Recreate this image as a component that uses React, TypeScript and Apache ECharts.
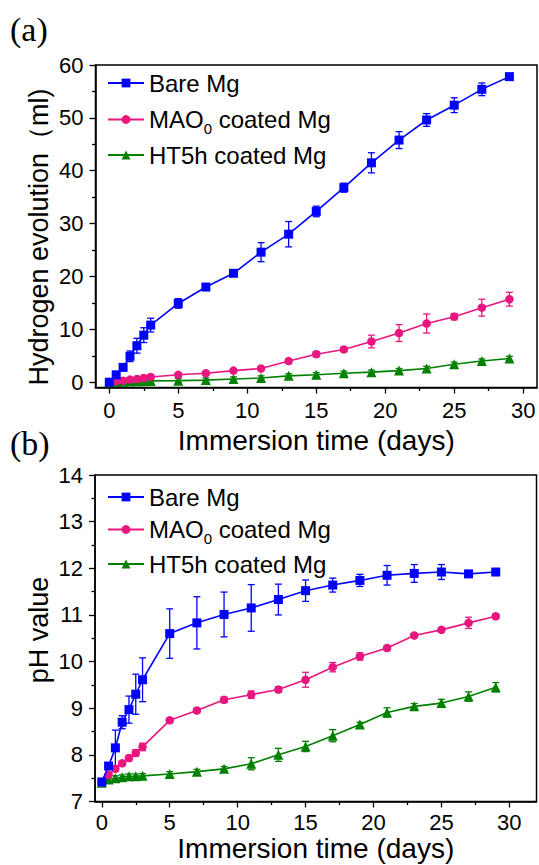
import React, { useEffect, useRef } from "react";
import * as echarts from "echarts";

// Immersion time points (days)
const days = [0, 0.5, 1, 1.5, 2, 2.5, 3, 5, 7, 9, 11, 13, 15, 17, 19, 21, 23, 25, 27, 29];

// (a) Hydrogen evolution (ml)
const h2Bare = [0, 1.4, 2.8, 4.9, 6.9, 8.9, 10.8, 14.9, 18.0, 20.6, 24.6, 28.0, 32.3, 36.8, 41.5, 45.8, 49.6, 52.4, 55.4, 57.8];
const h2BareErr = [0, 0.3, 0.4, 1.0, 1.4, 1.4, 1.3, 0.9, 0.5, 0.5, 1.8, 2.4, 1.0, 0.85, 1.9, 1.6, 1.2, 1.4, 1.2, 0.3];
const h2Mao = [0, 0.2, 0.3, 0.5, 0.6, 0.8, 1.0, 1.4, 1.7, 2.2, 2.6, 4.0, 5.3, 6.2, 7.7, 9.3, 11.1, 12.4, 14.1, 15.7];
const h2MaoErr = [0, 0.3, 0.3, 0.3, 0.3, 0.3, 0.3, 0.3, 0.3, 0.3, 0.3, 0.4, 0.5, 0.4, 1.2, 1.6, 1.8, 0.6, 1.6, 1.3];
const h2Ht = [0, 0.05, 0.1, 0.15, 0.2, 0.2, 0.25, 0.3, 0.4, 0.6, 0.8, 1.2, 1.4, 1.7, 1.9, 2.2, 2.6, 3.4, 4.0, 4.5];
const h2HtErr = [0, 0.4, 0.4, 0.4, 0.4, 0.4, 0.4, 0.4, 0.4, 0.4, 0.4, 0.4, 0.4, 0.4, 0.4, 0.4, 0.4, 0.4, 0.4, 0.4];

// (b) pH value
const phBare = [7.42, 7.76, 8.15, 8.7, 8.97, 9.3, 9.61, 10.6, 10.83, 11.01, 11.15, 11.33, 11.52, 11.64, 11.74, 11.85, 11.89, 11.92, 11.88, 11.92];
const phBareErr = [0, 0.05, 0.38, 0.14, 0.29, 0.43, 0.47, 0.53, 0.56, 0.48, 0.5, 0.33, 0.23, 0.15, 0.13, 0.21, 0.19, 0.16, 0.05, 0.04];
const phMao = [7.41, 7.57, 7.7, 7.82, 7.93, 8.04, 8.17, 8.74, 8.95, 9.18, 9.29, 9.4, 9.61, 9.88, 10.11, 10.29, 10.56, 10.68, 10.83, 10.97];
const phMaoErr = [0, 0.05, 0.05, 0.05, 0.06, 0.07, 0.08, 0.05, 0.05, 0.06, 0.08, 0.06, 0.16, 0.1, 0.08, 0.04, 0.04, 0.05, 0.12, 0.05];
const phHt = [7.4, 7.47, 7.5, 7.52, 7.54, 7.54, 7.55, 7.59, 7.64, 7.7, 7.81, 8.0, 8.18, 8.41, 8.65, 8.91, 9.04, 9.11, 9.25, 9.45];
const phHtErr = [0, 0.05, 0.05, 0.05, 0.05, 0.05, 0.05, 0.05, 0.05, 0.05, 0.13, 0.14, 0.11, 0.13, 0.05, 0.1, 0.06, 0.08, 0.1, 0.1];

// tick labels
const xTicks = [0, 5, 10, 15, 20, 25, 30];
const xMinorTicks = [2.5, 7.5, 12.5, 17.5, 22.5, 27.5];
const h2Ticks = [0, 10, 20, 30, 40, 50, 60];
const h2MinorTicks = [5, 15, 25, 35, 45, 55];
const phTicks = [7, 8, 9, 10, 11, 12, 13, 14];
const phMinorTicks = [7.5, 8.5, 9.5, 10.5, 11.5, 12.5, 13.5];

const seriesNames = ["Bare Mg", "MAO0 coated Mg", "HT5h coated Mg"];
const colors = ["#0000ff", "#e8177f", "#008000"];
const symbols = ["rect", "circle", "triangle"];
const symbolSizes = [9, 8.5, 10];

const FONT = "'Liberation Sans', Arial, 'Noto Sans', sans-serif";

function mainX(gridIndex: number, min: number, max: number) {
  return {
    type: "value",
    gridIndex,
    min,
    max,
    position: "bottom",
    name: "Immersion time (days)",
    nameLocation: "middle",
    nameGap: gridIndex === 0 ? 39 : 28,
    nameTextStyle: { fontSize: 28, color: "#000", fontFamily: FONT },
    axisLine: { show: true, onZero: false, lineStyle: { color: "#000", width: 1.5 } },
    axisTick: { show: true, inside: false, length: 6, customValues: xTicks, lineStyle: { color: "#000", width: 1.3 } },
    axisLabel: { show: true, customValues: xTicks, fontSize: 22, color: "#000", fontFamily: FONT, margin: gridIndex === 0 ? 12 : 10 },
    splitLine: { show: false },
  };
}
function minorX(gridIndex: number, min: number, max: number) {
  return {
    type: "value",
    gridIndex,
    min,
    max,
    position: "bottom",
    axisLine: { show: false, onZero: false },
    axisTick: { show: true, inside: false, length: 3.5, customValues: xMinorTicks, lineStyle: { color: "#000", width: 1.3 } },
    axisLabel: { show: false },
    splitLine: { show: false },
  };
}
function mainY(gridIndex: number, min: number, max: number, ticks: number[]) {
  return {
    type: "value",
    gridIndex,
    min,
    max,
    position: "left",
    axisLine: { show: true, onZero: false, lineStyle: { color: "#000", width: 1.5 } },
    axisTick: { show: true, inside: false, length: 6, customValues: ticks, lineStyle: { color: "#000", width: 1.3 } },
    axisLabel: { show: true, customValues: ticks, fontSize: 22, color: "#000", fontFamily: FONT, margin: 12 },
    splitLine: { show: false },
  };
}
function minorY(gridIndex: number, min: number, max: number, ticks: number[]) {
  return {
    type: "value",
    gridIndex,
    min,
    max,
    position: "left",
    axisLine: { show: false, onZero: false },
    axisTick: { show: true, inside: false, length: 3.5, customValues: ticks, lineStyle: { color: "#000", width: 1.3 } },
    axisLabel: { show: false },
    splitLine: { show: false },
  };
}

function lineSeries(i: number, ys: number[], axis: number) {
  return {
    type: "line",
    name: seriesNames[i],
    xAxisIndex: axis,
    yAxisIndex: axis,
    data: days.map((d, k) => [d, ys[k]]),
    symbol: symbols[i],
    symbolSize: symbolSizes[i],
    showSymbol: true,
    color: colors[i],
    lineStyle: { color: colors[i], width: 1.6 },
    itemStyle: { color: colors[i] },
    z: 3 + (2 - i),
  };
}

function errSeries(i: number, ys: number[], errs: number[], axis: number) {
  const color = colors[i];
  return {
    type: "custom",
    name: seriesNames[i] + " error",
    xAxisIndex: axis,
    yAxisIndex: axis,
    color,
    itemStyle: { color },
    data: days.map((d, k) => [d, ys[k], errs[k]]),
    encode: { x: 0, y: 1 },
    z: 2 + (2 - i),
    renderItem: (_params: any, api: any) => {
      const x = api.value(0);
      const y = api.value(1);
      const e = api.value(2);
      if (!e) return null;
      const lo = api.coord([x, y - e]);
      const hi = api.coord([x, y + e]);
      const w = 3.5;
      const style = { stroke: color, lineWidth: 1.3 };
      return {
        type: "group",
        children: [
          { type: "line", shape: { x1: lo[0], y1: lo[1], x2: hi[0], y2: hi[1] }, style },
          { type: "line", shape: { x1: lo[0] - w, y1: lo[1], x2: lo[0] + w, y2: lo[1] }, style },
          { type: "line", shape: { x1: hi[0] - w, y1: hi[1], x2: hi[0] + w, y2: hi[1] }, style },
        ],
      };
    },
  };
}

function legendItem(i: number, top: number) {
  return {
    data: [{ name: seriesNames[i] }],
    left: 107,
    top,
    padding: 0,
    itemWidth: 36,
    itemHeight: 11,
    selectedMode: false,
    formatter: (name: string) => (name === "MAO0 coated Mg" ? "MAO{sub|0} coated Mg" : name),
    textStyle: {
      fontSize: 24,
      color: "#000",
      fontFamily: FONT,
      lineHeight: 26,
      rich: {
        sub: { fontSize: 15, fontFamily: FONT, color: "#000", lineHeight: 15, padding: [18, 0, 0, 0] },
      },
    },
  };
}

export default function App() {
  const ref = useRef<HTMLDivElement>(null);
  useEffect(() => {
    if (!ref.current) return;
    const chart = echarts.init(ref.current, undefined, { renderer: "svg" });
    const option: any = {
      animation: false,
      backgroundColor: "#fff",
      grid: [
        { left: 95.5, top: 65, width: 441.5, height: 322.5, show: true, borderColor: "#000", borderWidth: 1.5, backgroundColor: "transparent", containLabel: false },
        { left: 95, top: 475, width: 441.5, height: 326.5, show: true, borderColor: "#000", borderWidth: 1.5, backgroundColor: "transparent", containLabel: false },
      ],
      xAxis: [mainX(0, -1, 31), minorX(0, -1, 31), mainX(1, -0.5, 32), minorX(1, -0.5, 32)],
      yAxis: [
        mainY(0, -1, 60, h2Ticks),
        minorY(0, -1, 60, h2MinorTicks),
        mainY(1, 7, 14, phTicks),
        minorY(1, 7, 14, phMinorTicks),
      ],
      legend: [
        legendItem(0, 70),
        legendItem(1, 103),
        legendItem(2, 142),
        legendItem(0, 484),
        legendItem(1, 513),
        legendItem(2, 551),
      ],
      graphic: [
        { type: "text", left: 10, top: 12, style: { text: "(a)", fontSize: 34, fontFamily: "'Liberation Serif', 'Times New Roman', serif", fill: "#000" } },
        { type: "text", left: 10, top: 426, style: { text: "(b)", fontSize: 34, fontFamily: "'Liberation Serif', 'Times New Roman', serif", fill: "#000" } },
        {
          type: "text",
          x: 39,
          y: 237,
          rotation: Math.PI / 2,
          style: { text: "Hydrogen evolution（ml)", fontSize: 27, fontFamily: FONT, fill: "#000", align: "center", verticalAlign: "middle" },
        },
        {
          type: "text",
          x: 39,
          y: 630,
          rotation: Math.PI / 2,
          style: { text: "pH value", fontSize: 27, fontFamily: FONT, fill: "#000", align: "center", verticalAlign: "middle" },
        },
      ],
      series: [
        errSeries(0, h2Bare, h2BareErr, 0),
        errSeries(1, h2Mao, h2MaoErr, 0),
        errSeries(2, h2Ht, h2HtErr, 0),
        lineSeries(0, h2Bare, 0),
        lineSeries(1, h2Mao, 0),
        lineSeries(2, h2Ht, 0),
        errSeries(0, phBare, phBareErr, 2),
        errSeries(1, phMao, phMaoErr, 2),
        errSeries(2, phHt, phHtErr, 2),
        lineSeries(0, phBare, 2),
        lineSeries(1, phMao, 2),
        lineSeries(2, phHt, 2),
      ],
    };
    chart.setOption(option);
    return () => chart.dispose();
  }, []);
  return (
    <div
      ref={ref}
      style={{ position: "absolute", left: 0, top: 0, width: 539, height: 865, background: "#fff" }}
    />
  );
}
